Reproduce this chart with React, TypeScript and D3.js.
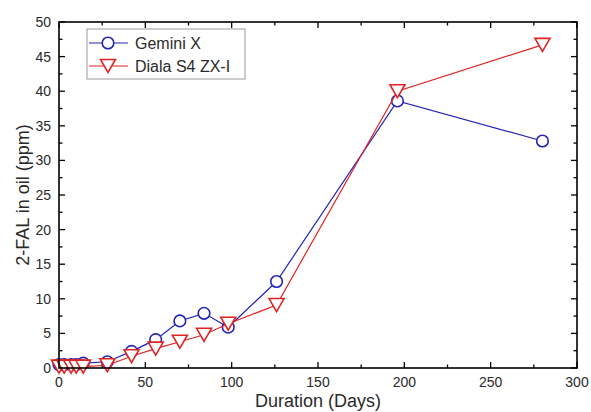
import React from "react";
import { scaleLinear, line, range } from "d3";

// sampling days and 2-FAL readings (ppm)
const daysGemini = [0, 3, 7, 10, 14, 28, 42, 56, 70, 84, 98, 126, 196, 280];
const gemini = [0.5, 0.5, 0.5, 0.5, 0.7, 0.9, 2.4, 4.1, 6.8, 7.9, 5.9, 12.5, 38.6, 32.8];
const daysDiala = [0, 3, 7, 10, 14, 28, 42, 56, 70, 84, 98, 126, 196, 280];
const diala = [0.2, 0.2, 0.2, 0.2, 0.2, 0.4, 1.7, 2.8, 3.8, 4.8, 6.4, 9.1, 40.0, 46.7];

const xTicks = [0, 50, 100, 150, 200, 250, 300];
const yTicks = [0, 5, 10, 15, 20, 25, 30, 35, 40, 45, 50];

const W = 591;
const H = 412;
const m = { left: 59, right: 577, top: 22, bottom: 368 };

const BLUE = "#2323b8";
const RED = "#e02424";
const FONT = "'Liberation Sans', Arial, sans-serif";
const TXT = "#2a2a2a";

function triPath(x: number, y: number) {
  return `M${x - 7.5},${y - 6.5}L${x + 7.5},${y - 6.5}L${x},${y + 6.5}Z`;
}

export default function App() {
  const x = scaleLinear().domain([0, 300]).range([m.left, m.right]);
  const y = scaleLinear().domain([0, 50]).range([m.bottom, m.top]);

  const gPts = daysGemini.map((d, i) => [x(d), y(gemini[i])] as [number, number]);
  const dPts = daysDiala.map((d, i) => [x(d), y(diala[i])] as [number, number]);
  const path = line();

  const xMinor = range(25, 300, 50);
  const yMinor = range(2.5, 50, 5);

  return (
    <svg width={W} height={H} style={{ position: "absolute", left: 0, top: 0, background: "#fff" }}>
      {/* ticks, inward on all four sides */}
      <g stroke="#000" strokeWidth={1.3}>
        {xTicks.map((t) => (
          <g key={"xt" + t}>
            <line x1={x(t)} x2={x(t)} y1={m.bottom} y2={m.bottom - 6} />
            <line x1={x(t)} x2={x(t)} y1={m.top} y2={m.top + 6} />
          </g>
        ))}
        {xMinor.map((t) => (
          <g key={"xm" + t}>
            <line x1={x(t)} x2={x(t)} y1={m.bottom} y2={m.bottom - 3.5} />
            <line x1={x(t)} x2={x(t)} y1={m.top} y2={m.top + 3.5} />
          </g>
        ))}
        {yTicks.map((t) => (
          <g key={"yt" + t}>
            <line x1={m.left} x2={m.left + 6} y1={y(t)} y2={y(t)} />
            <line x1={m.right} x2={m.right - 6} y1={y(t)} y2={y(t)} />
          </g>
        ))}
        {yMinor.map((t) => (
          <g key={"ym" + t}>
            <line x1={m.left} x2={m.left + 3.5} y1={y(t)} y2={y(t)} />
            <line x1={m.right} x2={m.right - 3.5} y1={y(t)} y2={y(t)} />
          </g>
        ))}
      </g>

      {/* series */}
      <path d={path(gPts) || ""} fill="none" stroke={BLUE} strokeWidth={1.2} />
      {gPts.map(([px, py], i) => (
        <circle key={"g" + i} cx={px} cy={py} r={5.8} fill="#fff" stroke={BLUE} strokeWidth={1.6} />
      ))}
      <path d={path(dPts) || ""} fill="none" stroke={RED} strokeWidth={1.2} />
      {dPts.map(([px, py], i) => (
        <path key={"d" + i} d={triPath(px, py)} fill="#fff" stroke={RED} strokeWidth={1.6} />
      ))}

      {/* frame */}
      <rect x={m.left} y={m.top} width={m.right - m.left} height={m.bottom - m.top} fill="none" stroke="#000" strokeWidth={1.6} />

      {/* tick labels */}
      <g fontFamily={FONT} fontSize={14} fill={TXT}>
        {xTicks.map((t) => (
          <text key={"xl" + t} x={x(t)} y={387} textAnchor="middle">{t}</text>
        ))}
        {yTicks.map((t) => (
          <text key={"yl" + t} x={51} y={y(t)} textAnchor="end" dominantBaseline="central">{t}</text>
        ))}
      </g>

      {/* axis titles */}
      <text x={(m.left + m.right) / 2} y={407} textAnchor="middle" fontFamily={FONT} fontSize={18} fill={TXT}>
        Duration (Days)
      </text>
      <text transform={`translate(29,${(m.top + m.bottom) / 2}) rotate(-90)`} textAnchor="middle" fontFamily={FONT} fontSize={18} fill={TXT}>
        2-FAL in oil (ppm)
      </text>

      {/* legend */}
      <rect x={87} y={29} width={158} height={50} fill="#fff" stroke="#999" strokeWidth={1} />
      <line x1={89} x2={128} y1={43} y2={43} stroke={BLUE} strokeWidth={1.2} />
      <circle cx={108} cy={43} r={5.8} fill="#fff" stroke={BLUE} strokeWidth={1.6} />
      <text x={135} y={43} dominantBaseline="central" fontFamily={FONT} fontSize={16} fill={TXT}>Gemini X</text>
      <line x1={89} x2={128} y1={66} y2={66} stroke={RED} strokeWidth={1.2} />
      <path d={triPath(108, 66)} fill="#fff" stroke={RED} strokeWidth={1.6} />
      <text x={135} y={66} dominantBaseline="central" fontFamily={FONT} fontSize={16} fill={TXT}>Diala S4 ZX-I</text>
    </svg>
  );
}
